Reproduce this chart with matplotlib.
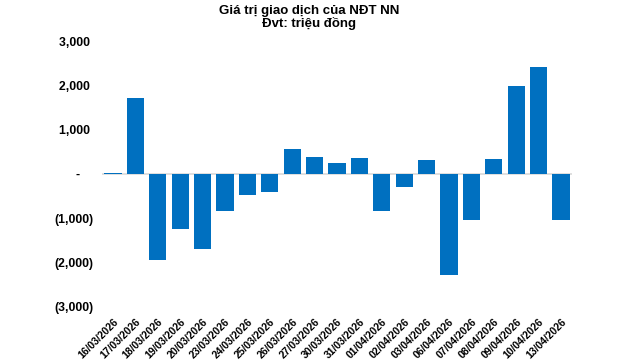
import matplotlib.pyplot as plt
from matplotlib.ticker import FuncFormatter

plt.rcParams['font.family'] = ['Liberation Sans', 'DejaVu Sans']

dates = ['16/03/2026', '17/03/2026', '18/03/2026', '19/03/2026', '20/03/2026',
         '23/03/2026', '24/03/2026', '25/03/2026', '26/03/2026', '27/03/2026',
         '30/03/2026', '31/03/2026', '01/04/2026', '02/04/2026', '03/04/2026',
         '06/04/2026', '07/04/2026', '08/04/2026', '09/04/2026', '10/04/2026',
         '13/04/2026']
values = [25, 1720, -1940, -1240, -1690,
          -830, -470, -400, 565, 385,
          250, 360, -830, -290, 320,
          -2280, -1040, 340, 1990, 2420,
          -1040]

fig = plt.figure(figsize=(6.4, 3.64), dpi=100)
ax = fig.add_axes([0.159, 0.157, 0.735, 0.73])

x = list(range(len(values)))
ax.bar(x, values, width=0.77, color='#0070C0', zorder=2)
ax.axhline(0, color='#D9D9D9', lw=1.2, zorder=1)

# excel style accounting format
def fmt(v, pos):
    if v == 0:
        return '-    '
    if v < 0:
        return '({:,.0f})'.format(-v)
    return '{:,.0f} '.format(v)

ax.set_ylim(-3000, 3000)
ax.set_yticks(range(-3000, 3001, 1000))
ax.yaxis.set_major_formatter(FuncFormatter(fmt))
ax.set_xlim(-0.5, len(values) - 0.5)
ax.set_xticks(x)
ax.set_xticklabels(dates, rotation=45, ha='right', rotation_mode='anchor')

ax.tick_params(axis='both', length=0)
ax.tick_params(axis='y', pad=6, labelsize=8.8)
ax.tick_params(axis='x', pad=7, labelsize=7.5)
for lab in ax.get_xticklabels() + ax.get_yticklabels():
    lab.set_fontweight('bold')
for s in ax.spines.values():
    s.set_visible(False)

fig.text(0.483, 0.985, 'Giá trị giao dịch của NĐT NN\nĐvt: triệu đồng',
         ha='center', va='top', fontsize=9.5, fontweight='bold', linespacing=1.0)

fig.savefig('out.png', dpi=100)
